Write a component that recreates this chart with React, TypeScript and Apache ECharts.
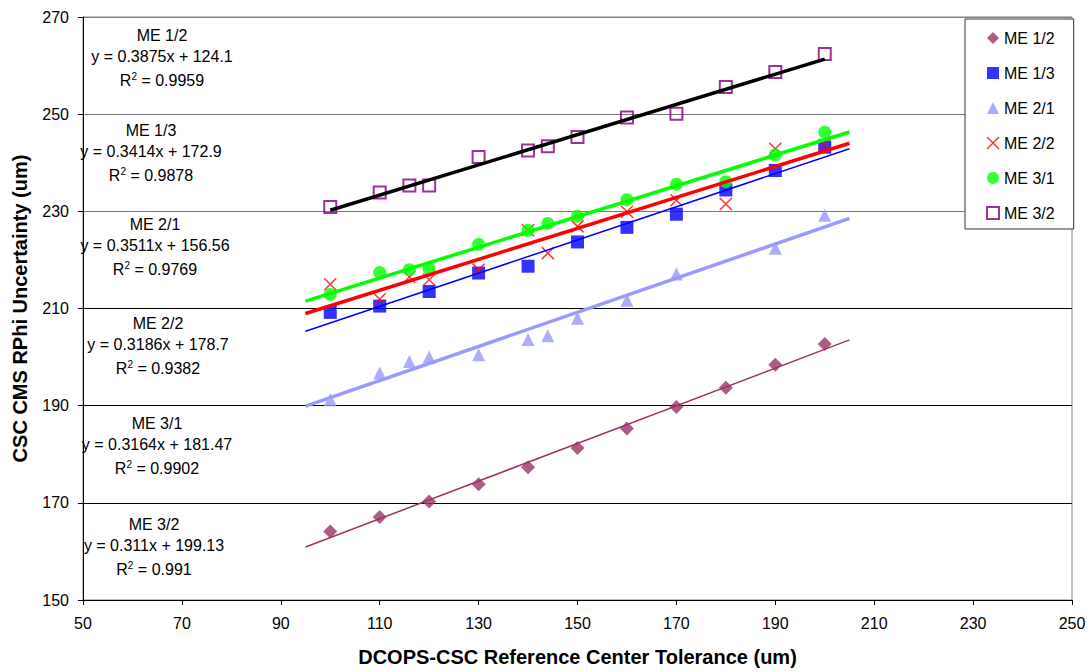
import React, { useEffect, useRef } from "react";
import * as echarts from "echarts";

const FONT = '"Liberation Sans", Arial, sans-serif';

const seriesNames = ["ME 1/2", "ME 1/3", "ME 2/1", "ME 2/2", "ME 3/1", "ME 3/2"];

// x positions (um)
const xElevenA = [100, 110, 120, 130, 140, 150, 160, 170, 180, 190, 200];
const xThirteen = [100, 110, 116, 120, 130, 140, 144, 150, 160, 170, 180, 190, 200];
const xTwelve = [100, 110, 116, 120, 130, 140, 144, 150, 160, 170, 190, 200];

// y values (um)
const me12 = [164.1, 167.1, 170.3, 173.8, 177.3, 181.3, 185.3, 189.7, 193.7, 198.4, 202.7];
const me13 = [209.2, 210.5, 213.5, 217.3, 218.7, 223.7, 226.7, 229.4, 234.4, 238.4, 243.2];
const me21 = [191.2, 196.7, 199.1, 200.0, 200.5, 203.6, 204.4, 208.0, 211.7, 217.1, 222.4, 229.2];
const me22 = [215.0, 211.9, 216.5, 215.9, 218.0, 226.1, 221.4, 226.9, 229.9, 232.3, 231.5, 242.9, 243.7];
const me31 = [212.9, 217.4, 218.0, 218.2, 223.2, 226.1, 227.5, 229.0, 232.4, 235.6, 236.1, 241.6, 246.3];
const me32 = [230.9, 233.9, 235.3, 235.3, 241.2, 242.5, 243.4, 245.3, 249.3, 250.1, 255.6, 258.7, 262.4];

const seriesX = [xElevenA, xElevenA, xTwelve, xThirteen, xThirteen, xThirteen];
const seriesY = [me12, me13, me21, me22, me31, me32];

// linear trendlines
const slopes = [0.3875, 0.3414, 0.3511, 0.3186, 0.3164, 0.311];
const intercepts = [124.1, 172.9, 156.56, 178.7, 181.47, 199.13];
const rSquared = [0.9959, 0.9878, 0.9769, 0.9382, 0.9902, 0.991];
const trendFrom = [95, 95, 95, 95, 95, 100];
const trendTo = [205, 205, 205, 205, 205, 200];

// styles
const markerColors = ["#993366", "#0000FF", "#9999FF", "#FF0000", "#00FF00", "#800080"];
const trendColors = ["#993366", "#0000FF", "#9999FF", "#FF0000", "#00FF00", "#000000"];
const trendWidths = [1.5, 1.5, 3.5, 3.5, 3.5, 3.5];
const XPATH = "path://M0,0L10,10M10,0L0,10";
const symbols = ["diamond", "rect", "triangle", XPATH, "circle", "rect"];
const symbolSizes = [14, 13, 13, 12, 13, 12];

// annotation layout
const annCenterX = [162, 151, 155, 158, 157, 154];
const annTopY = [35, 130, 224, 323, 423, 524];

function itemStyleFor(i: number) {
  if (i === 3) {
    return { color: "#FF0000", borderColor: "#FF0000", borderWidth: 1.5 };
  }
  if (i === 5) {
    return { color: "rgba(255,255,255,0)", borderColor: "#800080", borderWidth: 2 };
  }
  return { color: markerColors[i] };
}

export default function App() {
  const ref = useRef<HTMLDivElement>(null);

  useEffect(() => {
    if (!ref.current) return;
    const chart = echarts.init(ref.current, null, { renderer: "svg" });

    const scatterSeries = seriesNames.map((name, i) => ({
      name,
      type: "scatter",
      data: seriesX[i].map((x, k) => [x, seriesY[i][k]]),
      symbol: symbols[i],
      symbolSize: symbolSizes[i],
      itemStyle: itemStyleFor(i),
      z: 3,
    }));

    const trendSeries = seriesNames.map((name, i) => ({
      name: "trend " + name,
      type: "line",
      data: [
        [trendFrom[i], slopes[i] * trendFrom[i] + intercepts[i]],
        [trendTo[i], slopes[i] * trendTo[i] + intercepts[i]],
      ],
      symbol: "none",
      lineStyle: { color: trendColors[i], width: trendWidths[i] },
      z: 4,
    }));

    const graphics: any[] = [];
    seriesNames.forEach((name, i) => {
      const cx = annCenterX[i];
      const cy = annTopY[i];
      const base = {
        fill: "#000",
        fontSize: 16,
        fontFamily: FONT,
        align: "center",
        verticalAlign: "middle",
        textAlign: "center",
        textVerticalAlign: "middle",
      };
      graphics.push({ type: "text", x: cx, y: cy, z: 10, style: { ...base, text: name } });
      graphics.push({
        type: "text",
        x: cx,
        y: cy + 21,
        z: 10,
        style: { ...base, text: `y = ${slopes[i]}x + ${intercepts[i]}` },
      });
      graphics.push({
        type: "text",
        x: cx,
        y: cy + 45,
        z: 10,
        style: {
          ...base,
          text: `R{sup|2} = ${rSquared[i]}`,
          lineHeight: 18,
          rich: {
            sup: { fontSize: 10, fontFamily: FONT, fill: "#000", verticalAlign: "top", lineHeight: 10 },
          },
        },
      });
    });

    chart.setOption({
      animation: false,
      backgroundColor: "#fff",
      textStyle: { fontFamily: FONT },
      grid: {
        left: 83,
        right: 18,
        top: 17,
        bottom: 66,
        show: true,
        borderColor: "#808080",
        borderWidth: 1,
        containLabel: false,
      },
      legend: {
        orient: "vertical",
        left: 965,
        top: 19,
        padding: [11, 19, 8, 21],
        itemGap: 19,
        itemWidth: 12,
        itemHeight: 12,
        backgroundColor: "#fff",
        borderColor: "#333",
        borderWidth: 1,
        textStyle: { fontSize: 16, fontFamily: FONT, color: "#000", lineHeight: 16 },
        data: seriesNames.map((n, i) => ({ name: n, icon: symbols[i], itemStyle: itemStyleFor(i) })),
        z: 20,
      },
      xAxis: {
        type: "value",
        min: 50,
        max: 250,
        interval: 20,
        name: "DCOPS-CSC Reference Center Tolerance (um)",
        nameLocation: "middle",
        nameGap: 47,
        nameTextStyle: { fontSize: 20, fontWeight: "bold", fontFamily: FONT, color: "#000" },
        axisLine: { show: true, onZero: false, lineStyle: { color: "#000", width: 1 } },
        axisTick: { show: true, inside: false, length: 5, lineStyle: { color: "#000" } },
        axisLabel: { fontSize: 16, fontFamily: FONT, color: "#000", margin: 15 },
        splitLine: { show: false },
      },
      yAxis: {
        type: "value",
        min: 150,
        max: 270,
        interval: 20,
        name: "CSC CMS RPhi Uncertainty (um)",
        nameLocation: "middle",
        nameGap: 53,
        nameTextStyle: { fontSize: 20, fontWeight: "bold", fontFamily: FONT, color: "#000" },
        axisLine: { show: true, onZero: false, lineStyle: { color: "#000", width: 1 } },
        axisTick: { show: true, inside: false, length: 5, lineStyle: { color: "#000" } },
        axisLabel: { fontSize: 16, fontFamily: FONT, color: "#000", margin: 14 },
        splitLine: {
          show: true,
          lineStyle: { color: ["#000", "#000", "#000", "#000", "#777", "#777", "#808080"], width: 1 },
        },
      },
      series: [...scatterSeries, ...trendSeries],
      graphic: graphics,
    });

    return () => {
      chart.dispose();
    };
  }, []);

  return (
    <div
      ref={ref}
      style={{ position: "fixed", left: 0, top: 0, width: 1090, height: 672, background: "#fff" }}
    />
  );
}
